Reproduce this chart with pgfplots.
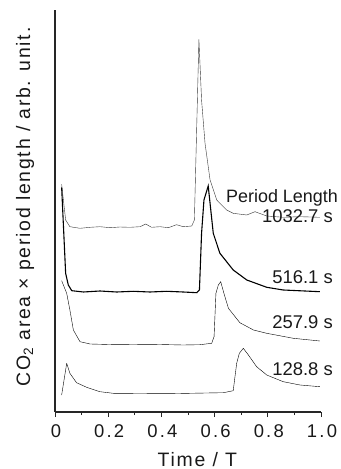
\documentclass[border=0pt]{standalone}
\usepackage{fontspec}
\setmainfont{Liberation Sans}
\newfontfamily\tickfont[LetterSpace=12]{Liberation Sans}
\newfontfamily\labfont[LetterSpace=9]{Liberation Sans}
\usepackage{pgfplots}
\pgfplotsset{compat=1.18}
\begin{document}
\fontsize{17}{20}\selectfont
\begin{tikzpicture}
\useasboundingbox (-55bp,-57bp) rectangle (286bp,412bp);
\begin{axis}[
  scale only axis, width=266bp, height=402bp,
  xmin=0, xmax=1, ymin=0, ymax=402,
  axis x line*=bottom, axis y line*=left,
  axis line style={black!85, line width=1.1pt, -},
  xtick={0,0.2,0.4,0.6,0.8,1.0},
  xticklabels={0,0.2,0.4,0.6,0.8,1.0},
  minor x tick num=1,
  ytick=\empty,
  tick align=outside,
  major tick length=5bp, minor tick length=3bp,
  tick style={black!85, line width=1pt},
  /pgf/number format/assume math mode=true,
  xticklabel style={font=\tickfont\fontsize{18.5}{20}\selectfont, yshift=-2bp, xshift=1bp, black!90},
  xlabel={Time / T},
  ylabel={CO\textsubscript{2} area × period length / arb. unit.},
  every axis x label/.style={at={(axis description cs:0.535,0)}, anchor=base, yshift=-54bp, font=\labfont\fontsize{19.5}{22}\selectfont, black!90},
  every axis y label/.style={at={(axis description cs:0,0.51)}, xshift=-30bp, rotate=90, anchor=center, font=\labfont\fontsize{19.5}{22}\selectfont, black!90},
  clip=false,
  cycle list={{black!80, line width=1.1pt, mark=none, line join=round}},
]
% 1032.7 s
\addplot coordinates {
(0.025,227.7)(0.040,192)(0.056,185.3)(0.094,183.7)(0.132,184.7)(0.169,185.3)(0.207,184.3)(0.244,185)(0.282,184.7)(0.320,185.3)(0.341,188)(0.363,184.7)(0.395,185.3)(0.426,184.3)(0.457,187.3)(0.482,185.3)(0.514,186)(0.524,192)(0.541,372.7)(0.551,312)(0.564,268.7)(0.583,232)(0.608,212)(0.645,202)(0.670,198.7)(0.721,197)(0.752,200.3)(0.796,196)(0.858,194.7)(0.921,195.3)(0.996,194.7)
};
% 516.1 s
\addplot coordinates {
(0.025,224.7)(0.040,138.7)(0.050,127)(0.063,121.3)(0.107,120)(0.169,121)(0.232,120)(0.294,120.7)(0.357,120)(0.420,120.7)(0.482,120)(0.533,119.3)(0.543,122)(0.551,178.7)(0.560,212)(0.576,226)(0.595,178.7)(0.620,158.7)(0.670,142)(0.721,132)(0.796,124.7)(0.858,122)(0.996,120.3)
};
% 257.9 s
\addplot coordinates {
(0.025,131.3)(0.044,118.7)(0.056,102)(0.069,82)(0.094,70.3)(0.132,68)(0.232,67.3)(0.357,67.7)(0.482,67)(0.545,67.3)(0.589,68.7)(0.598,75.3)(0.605,118.7)(0.614,127)(0.623,130.3)(0.635,118.7)(0.652,103.7)(0.695,89.3)(0.746,82)(0.796,78.7)(0.896,73.7)(0.996,71)
};
% 128.8 s
\addplot coordinates {
(0.025,17)(0.044,48.7)(0.056,38.7)(0.081,29.3)(0.119,24.7)(0.169,20.3)(0.219,18.7)(0.420,18.3)(0.633,19.3)(0.670,21.3)(0.683,48.7)(0.693,58.7)(0.708,63.7)(0.727,57)(0.758,45.3)(0.796,37)(0.858,30.3)(0.921,27)(0.996,25.3)
};
\node[anchor=base east, inner sep=0pt, font=\fontsize{18}{20}\selectfont, black!90] at (axis cs:1.064,209.5) {Period Length};
\node[anchor=base east, inner sep=0pt, font=\fontsize{18.5}{20}\selectfont, black!90] at (axis cs:1.045,189) {1032.7 s};
\node[anchor=base east, inner sep=0pt, font=\fontsize{18.5}{20}\selectfont, black!90] at (axis cs:1.045,128.7) {516.1 s};
\node[anchor=base east, inner sep=0pt, font=\fontsize{18.5}{20}\selectfont, black!90] at (axis cs:1.045,83.7) {257.9 s};
\node[anchor=base east, inner sep=0pt, font=\fontsize{18.5}{20}\selectfont, black!90] at (axis cs:1.045,36) {128.8 s};
\end{axis}
\end{tikzpicture}
\end{document}
